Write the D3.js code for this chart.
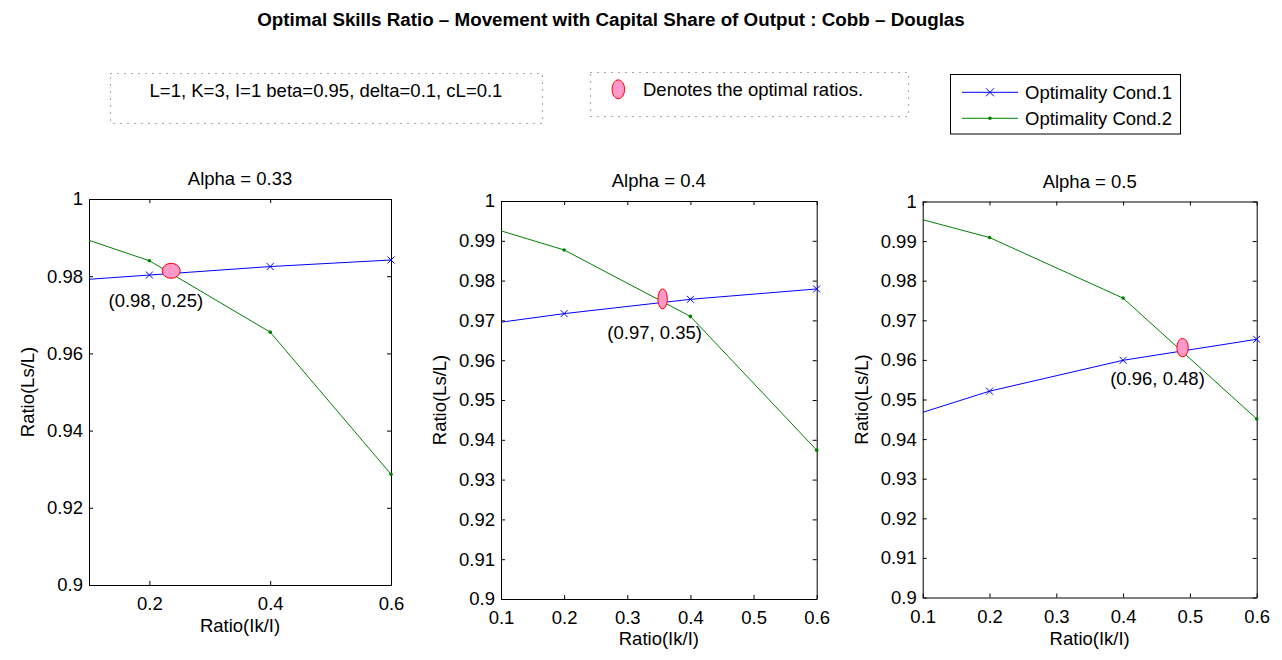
<!DOCTYPE html>
<html>
<head>
<meta charset="utf-8">
<script src="https://cdn.jsdelivr.net/npm/d3@7"></script>
<style>
  body { margin: 0; background: #fff; }
  text { font-family: "Liberation Sans", Arial, Helvetica, sans-serif; fill: #000; }
</style>
</head>
<body>
<div id="chart"></div>
<script>
// data
const titles = ['Alpha = 0.33', 'Alpha = 0.4', 'Alpha = 0.5'];
const ratioIk = [0, 0.2, 0.4, 0.6];
const cond1 = [
	[0.9781, 0.9803, 0.9825, 0.9842],
	[0.9674, 0.9717, 0.9753, 0.9779],
	[0.9414, 0.9521, 0.9599, 0.9652],
];
const cond2 = [
	[0.9946, 0.9840, 0.9655, 0.9287],
	[0.9973, 0.9877, 0.9710, 0.9374],
	[0.9999, 0.9909, 0.9756, 0.9451],
];
const optX = [0.236, 0.356, 0.489];
const optY = [0.9814, 0.9754, 0.9631];
const optLabels = ['(0.98, 0.25)', '(0.97, 0.35)', '(0.96, 0.48)'];
const labelX = [0.2106, 0.3434, 0.4515];
const labelY = [0.9738, 0.9670, 0.9553];
const yTicks = [
	[0.9, 0.92, 0.94, 0.96, 0.98, 1],
	[0.9, 0.91, 0.92, 0.93, 0.94, 0.95, 0.96, 0.97, 0.98, 0.99, 1],
	[0.9, 0.91, 0.92, 0.93, 0.94, 0.95, 0.96, 0.97, 0.98, 0.99, 1],
];
const xTicks = [
	[0.2, 0.4, 0.6],
	[0.1, 0.2, 0.3, 0.4, 0.5, 0.6],
	[0.1, 0.2, 0.3, 0.4, 0.5, 0.6],
];
const legendNames = ['Optimality Cond.1', 'Optimality Cond.2'];
const mainTitle = 'Optimal Skills Ratio \u2013 Movement with Capital Share of Output : Cobb \u2013 Douglas';
const paramText = 'L=1, K=3, I=1 beta=0.95, delta=0.1, cL=0.1';
const noteText = 'Denotes the optimal ratios.';

// layout (pixels)
const panels = [
	{ left: 89, right: 391, top: 199, bottom: 585, titleY: 178, xlabY: 625, ylabX: 27, rx: 9, ry: 7.5 },
	{ left: 501, right: 816.7, top: 201, bottom: 599, titleY: 180, xlabY: 638, ylabX: 439, rx: 4.7, ry: 10 },
	{ left: 922.7, right: 1256.7, top: 201.5, bottom: 597.5, titleY: 181.5, xlabY: 638, ylabX: 861, rx: 5.7, ry: 9.2 },
];
const fs = 18.5;
const blue = '#0000ff', green = '#008000';
const pink = '#ff99cc', red = '#ff0000';

const svg = d3.select('#chart').append('svg')
	.attr('width', 1282).attr('height', 660);

svg.append('text')
	.attr('x', 611).attr('y', 19)
	.attr('text-anchor', 'middle').attr('dominant-baseline', 'central')
	.style('font-size', '18.8px').style('font-weight', 'bold')
	.text(mainTitle);

// dotted annotation boxes
svg.append('rect').attr('x', 110.5).attr('y', 73.5).attr('width', 432).attr('height', 50)
	.attr('fill', 'none').attr('stroke', '#555').attr('stroke-dasharray', '1,6');
svg.append('text').attr('x', 326).attr('y', 90)
	.attr('text-anchor', 'middle').attr('dominant-baseline', 'central')
	.style('font-size', fs + 'px').text(paramText);

svg.append('rect').attr('x', 590.5).attr('y', 72.5).attr('width', 318).attr('height', 44)
	.attr('fill', 'none').attr('stroke', '#555').attr('stroke-dasharray', '1,6');
svg.append('ellipse').attr('cx', 618.3).attr('cy', 89.3).attr('rx', 6.3).attr('ry', 9.5)
	.attr('fill', pink).attr('stroke', red);
svg.append('text').attr('x', 643).attr('y', 89)
	.attr('dominant-baseline', 'central')
	.style('font-size', fs + 'px').text(noteText);

// legend
const legend = svg.append('g');
legend.append('rect').attr('x', 950.5).attr('y', 74.5).attr('width', 230).attr('height', 59.5)
	.attr('fill', '#fff').attr('stroke', '#000');
const legendY = d3.scalePoint().domain(legendNames).range([92.3, 118.3]);
legendNames.forEach((name, i) => {
	const y = legendY(name);
	const col = i === 0 ? blue : green;
	legend.append('line').attr('x1', 962).attr('x2', 1018).attr('y1', y).attr('y2', y)
		.attr('stroke', col);
	if (i === 0) {
		legend.append('path').attr('d', `M${986},${y - 4}L${994},${y + 4}M${986},${y + 4}L${994},${y - 4}`)
			.attr('stroke', col);
	} else {
		legend.append('circle').attr('cx', 990).attr('cy', y).attr('r', 1.8).attr('fill', col);
	}
	legend.append('text').attr('x', 1025).attr('y', y)
		.attr('dominant-baseline', 'central')
		.style('font-size', fs + 'px').text(name);
});

panels.forEach((p, k) => {
	const x = d3.scaleLinear().domain([0.1, 0.6]).range([p.left, p.right]);
	const y = d3.scaleLinear().domain([0.9, 1]).range([p.bottom, p.top]);
	const g = svg.append('g');
	const w = p.right - p.left, h = p.bottom - p.top;

	g.append('clipPath').attr('id', 'clip' + k)
		.append('rect').attr('x', p.left).attr('y', p.top).attr('width', w).attr('height', h);

	g.append('rect').attr('x', p.left).attr('y', p.top).attr('width', w).attr('height', h)
		.attr('fill', '#fff');

	// axes, ticks inward
	const fmt = d => String(+d.toFixed(2));
	const ax = {
		bottom: d3.axisBottom(x).tickValues(xTicks[k]).tickFormat(fmt).tickSizeInner(-4).tickSizeOuter(0).tickPadding(12),
		top: d3.axisTop(x).tickValues(xTicks[k]).tickFormat('').tickSizeInner(-4).tickSizeOuter(0),
		left: d3.axisLeft(y).tickValues(yTicks[k]).tickFormat(fmt).tickSizeInner(-4).tickSizeOuter(0).tickPadding(6),
		right: d3.axisRight(y).tickValues(yTicks[k]).tickFormat('').tickSizeInner(-4).tickSizeOuter(0),
	};
	g.append('g').attr('transform', `translate(0,${p.bottom})`).call(ax.bottom);
	g.append('g').attr('transform', `translate(0,${p.top})`).call(ax.top);
	g.append('g').attr('transform', `translate(${p.left},0)`).call(ax.left);
	g.append('g').attr('transform', `translate(${p.right},0)`).call(ax.right);
	g.selectAll('.tick text').style('font-size', fs + 'px').attr('font-family', null);
	g.selectAll('.domain, .tick line').attr('stroke', '#000');

	const line = d3.line().x(d => x(d[0])).y(d => y(d[1]));
	const s1 = ratioIk.map((v, i) => [v, cond1[k][i]]);
	const s2 = ratioIk.map((v, i) => [v, cond2[k][i]]);
	const plot = g.append('g').attr('clip-path', `url(#clip${k})`);
	plot.append('path').attr('d', line(s1)).attr('fill', 'none').attr('stroke', blue);
	plot.append('path').attr('d', line(s2)).attr('fill', 'none').attr('stroke', green);

	const inside = d => d[0] >= 0.1 && d[0] <= 0.6;
	g.selectAll(null).data(s1.filter(inside)).join('path')
		.attr('d', d => {
			const cx = x(d[0]), cy = y(d[1]);
			return `M${cx - 3.5},${cy - 3.5}L${cx + 3.5},${cy + 3.5}M${cx - 3.5},${cy + 3.5}L${cx + 3.5},${cy - 3.5}`;
		})
		.attr('stroke', blue);
	g.selectAll(null).data(s2.filter(inside)).join('circle')
		.attr('cx', d => x(d[0])).attr('cy', d => y(d[1])).attr('r', 1.8)
		.attr('fill', green);

	g.append('ellipse').attr('cx', x(optX[k])).attr('cy', y(optY[k]))
		.attr('rx', p.rx).attr('ry', p.ry)
		.attr('fill', pink).attr('stroke', red);
	g.append('text').attr('x', x(labelX[k])).attr('y', y(labelY[k]))
		.attr('text-anchor', 'middle').attr('dominant-baseline', 'central')
		.style('font-size', fs + 'px').text(optLabels[k]);

	g.append('text').attr('x', (p.left + p.right) / 2).attr('y', p.titleY)
		.attr('text-anchor', 'middle').attr('dominant-baseline', 'central')
		.style('font-size', fs + 'px').text(titles[k]);
	g.append('text').attr('x', (p.left + p.right) / 2).attr('y', p.xlabY)
		.attr('text-anchor', 'middle').attr('dominant-baseline', 'central')
		.style('font-size', fs + 'px').text('Ratio(Ik/I)');
	g.append('text')
		.attr('transform', `translate(${p.ylabX},${(p.top + p.bottom) / 2}) rotate(-90)`)
		.attr('text-anchor', 'middle').attr('dominant-baseline', 'central')
		.style('font-size', fs + 'px').text('Ratio(Ls/L)');
});
</script>
</body>
</html>
